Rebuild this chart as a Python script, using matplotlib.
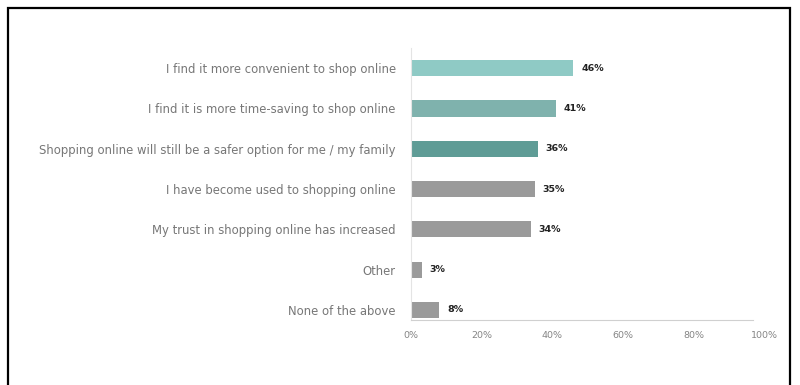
import matplotlib
matplotlib.use("Agg")
import matplotlib.pyplot as plt
from matplotlib.patches import Rectangle

categories = [
    "I find it more convenient to shop online",
    "I find it is more time-saving to shop online",
    "Shopping online will still be a safer option for me / my family",
    "I have become used to shopping online",
    "My trust in shopping online has increased",
    "Other",
    "None of the above",
]
values = [46, 41, 36, 35, 34, 3, 8]
bar_colors = ["#8fcac5", "#7fb2ad", "#5f9c96", "#9a9a9a", "#9a9a9a", "#9a9a9a", "#9a9a9a"]
tick_values = [0, 20, 40, 60, 80, 100]
tick_labels = ["0%", "20%", "40%", "60%", "80%", "100%"]

W, H = 800, 385
fig = plt.figure(figsize=(W / 100, H / 100), dpi=100)
fig.patch.set_facecolor("white")

# outer frame
fig.add_artist(Rectangle((8 / W, -0.02), (790 - 8) / W, (H - 8) / H + 0.02,
                         transform=fig.transFigure, fill=False,
                         edgecolor="black", linewidth=1.6))

left_px, right_px = 411, 764
top_px, bottom_px = 48, 320
ax = fig.add_axes([left_px / W, 1 - bottom_px / H,
                   (right_px - left_px) / W, (bottom_px - top_px) / H])

y = list(range(len(categories)))
ax.barh(y, values, height=0.4, color=bar_colors)
ax.set_xlim(0, 100)
ax.set_ylim(6.25, -0.5)

for yi, v in zip(y, values):
    ax.text(v + 2.2, yi, f"{v}%", va="center", ha="left",
            fontsize=6.8, fontweight="bold", color="#222222")

ax.set_yticks(y)
ax.set_yticklabels(categories, fontsize=8.4, color="#777777")
ax.set_xticks(tick_values)
ax.set_xticklabels(tick_labels, fontsize=6.8, color="#858585")
ax.tick_params(axis="y", length=0, pad=11)
ax.tick_params(axis="x", length=0, pad=8)

for s in ["top", "right"]:
    ax.spines[s].set_visible(False)
ax.spines["left"].set_color("#e4e4e4")
ax.spines["bottom"].set_color("#d0d0d0")
ax.spines["left"].set_linewidth(0.8)
ax.spines["bottom"].set_linewidth(0.8)
ax.spines["bottom"].set_bounds(0, 97)

fig.savefig("out.png", dpi=100, facecolor="white")
